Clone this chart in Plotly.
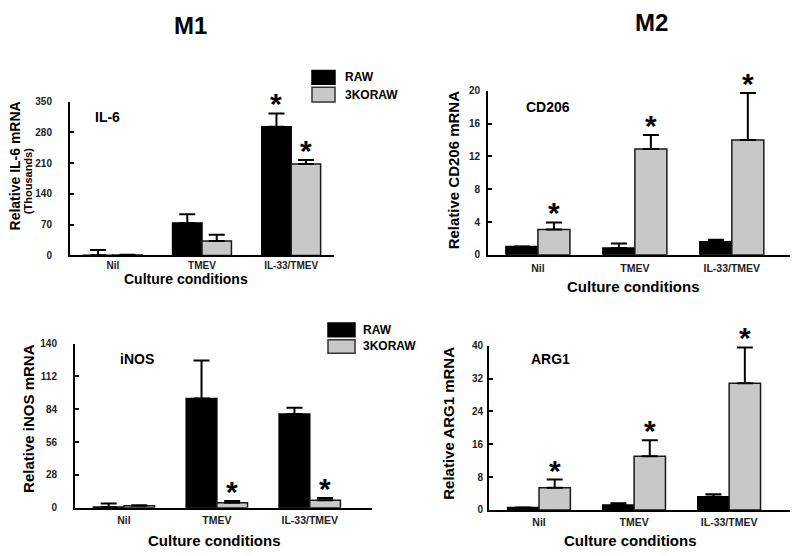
import plotly.graph_objects as go

# ---------------- data ----------------
categories = ["Nil", "TMEV", "IL-33/TMEV"]
series_names = ["RAW", "3KORAW"]

il6_raw = [0.5, 74, 293]
il6_raw_err = [12, 20, 30]
il6_ko = [1, 33, 208]
il6_ko_err = [0.5, 14, 9]
il6_sig_raw = [False, False, True]
il6_sig_ko = [False, False, True]
il6_ticks = [0, 70, 140, 210, 280, 350]

cd206_raw = [1.0, 0.83, 1.6]
cd206_raw_err = [0, 0.55, 0.25]
cd206_ko = [3.1, 12.9, 14.0]
cd206_ko_err = [0.85, 1.7, 5.75]
cd206_sig_raw = [False, False, False]
cd206_sig_ko = [True, True, True]
cd206_ticks = [0, 4, 8, 12, 16, 20]

inos_raw = [0.5, 93.2, 79.9]
inos_raw_err = [3, 32.3, 5.3]
inos_ko = [1.5, 4.2, 6.4]
inos_ko_err = [0.5, 1.4, 1.9]
inos_sig_raw = [False, False, False]
inos_sig_ko = [False, True, True]
inos_ticks = [0, 28, 56, 84, 112, 140]

arg1_raw = [0.6, 1.2, 3.2]
arg1_raw_err = [0, 0.4, 0.6]
arg1_ko = [5.4, 13.1, 30.9]
arg1_ko_err = [2.0, 3.9, 8.7]
arg1_sig_raw = [False, False, False]
arg1_sig_ko = [True, True, True]
arg1_ticks = [0, 8, 16, 24, 32, 40]

# ---------------- layout helpers ----------------
W, H = 796, 556
FONT = "Liberation Sans, Arial, sans-serif"
BLACK = "#000000"
GREY = "#c8c8c8"


def fx(p):
    return p / W


def fy(p):
    return 1 - p / H


panels = [
    dict(label="IL-6", raw=il6_raw, raw_err=il6_raw_err, ko=il6_ko, ko_err=il6_ko_err,
         sig_raw=il6_sig_raw, sig_ko=il6_sig_ko, ticks=il6_ticks,
         xd=(70, 334), yd=(97.7, 255), xr=[-0.48, 2.48],
         lab_xy=(107, 113), ytitle="Relative IL-6 mRNA", yt_xy=(15, 164), yt_size=14,
         xtitle_xy=(186, 279), xt_size=14, ystand=14, xstand=0, xtsize=10),
    dict(label="CD206", raw=cd206_raw, raw_err=cd206_raw_err, ko=cd206_ko, ko_err=cd206_ko_err,
         sig_raw=cd206_sig_raw, sig_ko=cd206_sig_ko, ticks=cd206_ticks,
         xd=(488, 790), yd=(86.7, 254.3), xr=[-0.515, 2.6],
         lab_xy=(548, 103), ytitle="Relative CD206 mRNA", yt_xy=(453, 168), yt_size=15,
         xtitle_xy=(633, 287), xt_size=15, ystand=4, xstand=3, xtsize=10.5),
    dict(label="iNOS", raw=inos_raw, raw_err=inos_raw_err, ko=inos_ko, ko_err=inos_ko_err,
         sig_raw=inos_sig_raw, sig_ko=inos_sig_ko, ticks=inos_ticks,
         xd=(75, 372), yd=(345, 512.7), xr=[-0.527, 2.67],
         lab_xy=(137, 361), ytitle="Relative iNOS mRNA", yt_xy=(29, 422), yt_size=15,
         xtitle_xy=(214, 546), xt_size=15, ystand=14, xstand=2, xtsize=10.5),
    dict(label="ARG1", raw=arg1_raw, raw_err=arg1_raw_err, ko=arg1_ko, ko_err=arg1_ko_err,
         sig_raw=arg1_sig_raw, sig_ko=arg1_sig_ko, ticks=arg1_ticks,
         xd=(489, 790), yd=(347.3, 515), xr=[-0.526, 2.64],
         lab_xy=(550, 361), ytitle="Relative ARG1 mRNA", yt_xy=(449, 427), yt_size=15,
         xtitle_xy=(630, 546), xt_size=15, ystand=2, xstand=2, xtsize=10.5),
]

fig = go.Figure()
annotations = []
shapes = []
layout_axes = {}

xpos = list(range(len(categories)))

for i, p in enumerate(panels, start=1):
    xa = "x" if i == 1 else f"x{i}"
    ya = "y" if i == 1 else f"y{i}"
    for name, vals, errs, color, lc in [
        (series_names[0], p["raw"], p["raw_err"], BLACK, BLACK),
        (series_names[1], p["ko"], p["ko_err"], GREY, "#1a1a1a"),
    ]:
        fig.add_trace(go.Bar(
            x=xpos, y=vals, name=name, xaxis=xa, yaxis=ya, offsetgroup=name,
            marker=dict(color=color, line=dict(color=lc, width=1.5)),
            error_y=dict(type="data", array=errs, arrayminus=[0] * len(errs), symmetric=False,
                         color="black", thickness=2, width=8),
            showlegend=False,
        ))
    # significance asterisks
    for sig, vals, errs, off in [(p["sig_raw"], p["raw"], p["raw_err"], -0.165),
                                 (p["sig_ko"], p["ko"], p["ko_err"], 0.165)]:
        for k, s in enumerate(sig):
            if s:
                annotations.append(dict(
                    x=xpos[k] + off, y=vals[k] + errs[k], xref=xa, yref=ya,
                    text="*", showarrow=False, yanchor="bottom", yshift=-9,
                    font=dict(family=FONT, size=30, color="black", weight="bold")))
    # panel label
    annotations.append(dict(x=fx(p["lab_xy"][0]), y=fy(p["lab_xy"][1]), xref="paper", yref="paper",
                            text=p["label"], showarrow=False, xanchor="center", yanchor="middle",
                            font=dict(family=FONT, size=14, color="black", weight="bold")))
    # y title
    annotations.append(dict(x=fx(p["yt_xy"][0]), y=fy(p["yt_xy"][1]), xref="paper", yref="paper",
                            text=p["ytitle"], showarrow=False, textangle=-90,
                            xanchor="center", yanchor="middle",
                            font=dict(family=FONT, size=p["yt_size"], color="black", weight="bold")))
    # x title
    annotations.append(dict(x=fx(p["xtitle_xy"][0]), y=fy(p["xtitle_xy"][1]), xref="paper", yref="paper",
                            text="Culture conditions", showarrow=False,
                            xanchor="center", yanchor="middle",
                            font=dict(family=FONT, size=p["xt_size"], color="black", weight="bold")))

    xkey = "xaxis" if i == 1 else f"xaxis{i}"
    ykey = "yaxis" if i == 1 else f"yaxis{i}"
    layout_axes[xkey] = dict(
        domain=[fx(p["xd"][0]), fx(p["xd"][1])], range=p["xr"], anchor=ya,
        tickmode="array", tickvals=xpos, ticktext=categories,
        showline=True, linecolor="black", linewidth=2, ticks="", showgrid=False, zeroline=False,
        tickfont=dict(family=FONT, size=p["xtsize"], color="#222", weight="bold"),
        ticklabelstandoff=p["xstand"],
        fixedrange=True,
    )
    layout_axes[ykey] = dict(
        domain=[fy(p["yd"][1]), fy(p["yd"][0])], range=[p["ticks"][0], p["ticks"][-1]], anchor=xa,
        tickmode="array", tickvals=p["ticks"], ticktext=[str(t) for t in p["ticks"]],
        showline=True, linecolor="black", linewidth=2, ticks="inside", ticklen=4, tickwidth=1.5,
        tickcolor="black", showgrid=False, zeroline=False,
        tickfont=dict(family=FONT, size=10, color="#222", weight="bold"),
        ticklabelstandoff=p["ystand"],
        fixedrange=True,
    )

# "(Thousands)" subtitle for IL-6
annotations.append(dict(x=fx(28), y=fy(179), xref="paper", yref="paper", text="(Thousands)",
                        showarrow=False, textangle=-90, xanchor="center", yanchor="middle",
                        font=dict(family=FONT, size=11, color="black", weight="bold")))

# column titles
annotations.append(dict(x=fx(190), y=fy(20), xref="paper", yref="paper", text="M1", showarrow=False,
                        xanchor="center", yanchor="middle",
                        font=dict(family=FONT, size=24, color="black", weight="bold")))
annotations.append(dict(x=fx(651), y=fy(17), xref="paper", yref="paper", text="M2", showarrow=False,
                        xanchor="center", yanchor="middle",
                        font=dict(family=FONT, size=24, color="black", weight="bold")))

# legends (two copies, drawn as boxes + text)
for (bx0, bx1, by_black, by_grey, tx) in [(312, 335, (66, 80), (83, 98), 343),
                                          (328, 355, (324, 338), (341, 355), 361)]:
    shapes.append(dict(type="rect", xref="paper", yref="paper",
                       x0=fx(bx0), x1=fx(bx1), y0=fy(by_black[1]), y1=fy(by_black[0]),
                       fillcolor=BLACK, line=dict(color=BLACK, width=1.5)))
    shapes.append(dict(type="rect", xref="paper", yref="paper",
                       x0=fx(bx0), x1=fx(bx1), y0=fy(by_grey[1]), y1=fy(by_grey[0]),
                       fillcolor=GREY, line=dict(color="#333", width=1.5)))
    for nm, (a, b) in zip(series_names, [by_black, by_grey]):
        annotations.append(dict(x=fx(tx), y=fy((a + b) / 2), xref="paper", yref="paper", text=nm,
                                showarrow=False, xanchor="left", yanchor="middle",
                                font=dict(family=FONT, size=12, color="black", weight="bold")))

fig.update_layout(
    width=W, height=H, margin=dict(l=0, r=0, t=0, b=0),
    paper_bgcolor="white", plot_bgcolor="white",
    barmode="group", bargap=0.34, bargroupgap=0,
    showlegend=False, annotations=annotations, shapes=shapes,
    **layout_axes,
)

fig.write_html("out.html", config={"displayModeBar": False},
               post_script="document.body.style.margin='0px';")
